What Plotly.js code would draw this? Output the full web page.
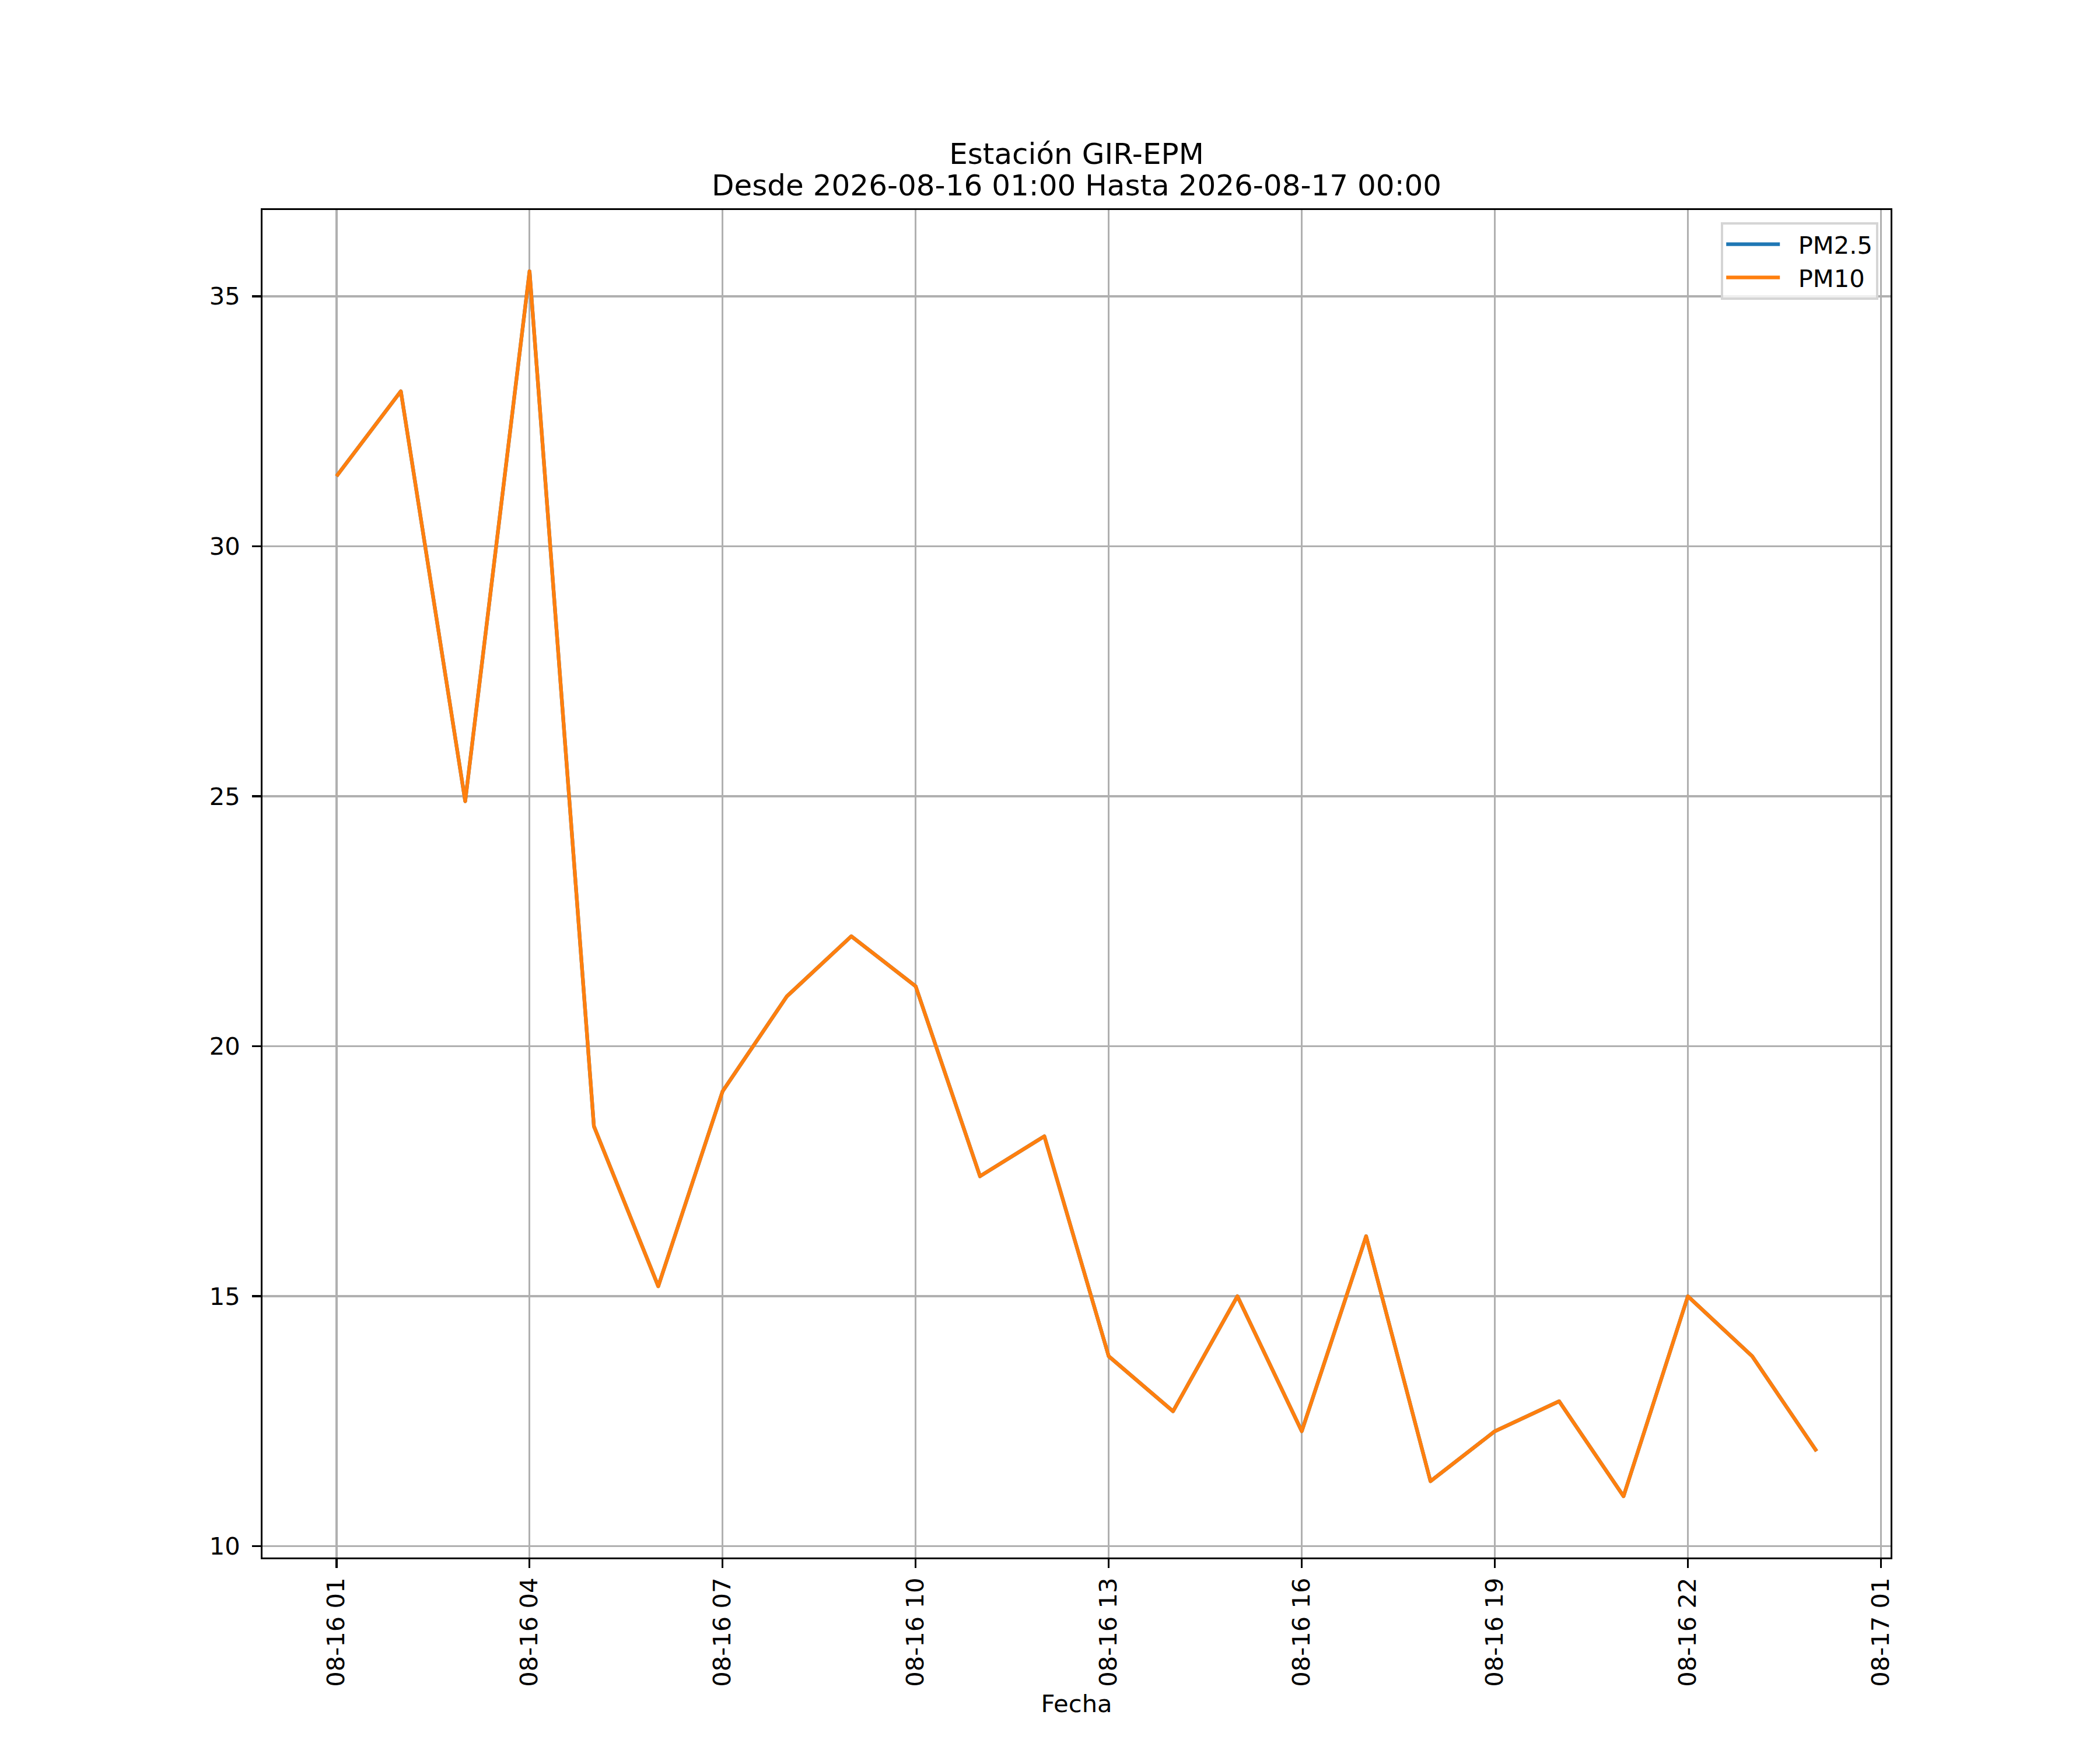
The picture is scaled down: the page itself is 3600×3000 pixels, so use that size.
<!DOCTYPE html>
<html>
<head>
<meta charset="utf-8">
<script src="https://cdn.plot.ly/plotly-3.0.1.min.js"></script>
<style>
  body { margin: 0; padding: 0; background: white; }
  .scatterlayer .js-line { stroke-linejoin: round; }
</style>
</head>
<body>
<div id="grafica" style="width:3600px;height:3000px"></div>
<script>
// horas de medición (una por hora)
const fechas = [
  '2026-08-16 01:00', '2026-08-16 02:00', '2026-08-16 03:00', '2026-08-16 04:00',
  '2026-08-16 05:00', '2026-08-16 06:00', '2026-08-16 07:00', '2026-08-16 08:00',
  '2026-08-16 09:00', '2026-08-16 10:00', '2026-08-16 11:00', '2026-08-16 12:00',
  '2026-08-16 13:00', '2026-08-16 14:00', '2026-08-16 15:00', '2026-08-16 16:00',
  '2026-08-16 17:00', '2026-08-16 18:00', '2026-08-16 19:00', '2026-08-16 20:00',
  '2026-08-16 21:00', '2026-08-16 22:00', '2026-08-16 23:00', '2026-08-17 00:00'
];

// PM2.5 queda tapada por PM10 en la imagen (mismos valores)
const pm25 = [31.4, 33.1, 24.9, 35.5, 18.4, 15.2, 19.1, 21.0, 22.2, 21.2, 17.4, 18.2,
              13.8, 12.7, 15.0, 12.3, 16.2, 11.3, 12.3, 12.9, 11.0, 15.0, 13.8, 11.9];
const pm10 = [31.4, 33.1, 24.9, 35.5, 18.4, 15.2, 19.1, 21.0, 22.2, 21.2, 17.4, 18.2,
              13.8, 12.7, 15.0, 12.3, 16.2, 11.3, 12.3, 12.9, 11.0, 15.0, 13.8, 11.9];

const estacion = 'Estación GIR-EPM';
const subtitulo = 'Desde 2026-08-16 01:00 Hasta 2026-08-17 00:00';

// 1 pt = 300/72 px
const pt = 300 / 72;
const fuente = 'DejaVu Sans, sans-serif';
// separación entre la muestra de línea y el texto de la leyenda
const sep = '\u00a0\u00a0';

let trazaPM25 = {
  x: fechas, y: pm25, name: sep + 'PM2.5', type: 'scatter', mode: 'lines',
  line: { color: '#1f77b4', width: 1.5 * pt }
};
let trazaPM10 = {
  x: fechas, y: pm10, name: sep + 'PM10', type: 'scatter', mode: 'lines',
  line: { color: '#ff7f0e', width: 1.5 * pt }
};

let ejeX = {
  type: 'date',
  range: ['2026-08-15 23:51', '2026-08-17 01:09'],
  tick0: '2026-08-16 01:00',
  dtick: 3 * 3600 * 1000,
  tickformat: '%m-%d %H',
  tickangle: -90,
  ticks: 'outside', ticklen: 3.5 * pt, tickwidth: 0.8 * pt, tickcolor: 'black',
  ticklabelstandoff: 0,
  showline: true, linecolor: 'black', linewidth: 0.8 * pt, mirror: true,
  showgrid: true, gridcolor: '#b0b0b0', gridwidth: 0.8 * pt,
  zeroline: false,
  tickfont: { family: fuente, size: 10 * pt, color: 'black' },
  title: { text: 'Fecha', standoff: 16, font: { family: fuente, size: 10 * pt, color: 'black' } }
};

let ejeY = {
  range: [9.775, 36.725],
  tick0: 0, dtick: 5,
  ticks: 'outside', ticklen: 3.5 * pt, tickwidth: 0.8 * pt, tickcolor: 'black',
  ticklabelstandoff: 12,
  showline: true, linecolor: 'black', linewidth: 0.8 * pt, mirror: true,
  showgrid: true, gridcolor: '#b0b0b0', gridwidth: 0.8 * pt,
  zeroline: false,
  tickfont: { family: fuente, size: 10 * pt, color: 'black' }
};

let layout = {
  width: 3600, height: 3000, autosize: false,
  paper_bgcolor: 'white', plot_bgcolor: 'white',
  margin: { l: 450, r: 359, t: 360, b: 330, pad: 0 },
  font: { family: fuente, size: 10 * pt, color: 'black' },
  title: {
    text: estacion,
    font: { family: fuente, size: 12 * pt, color: 'black' },
    x: 0.5, xref: 'paper', xanchor: 'center',
    y: 1 - 263 / 3000, yref: 'container', yanchor: 'middle'
  },
  annotations: [{
    text: subtitulo, showarrow: false,
    xref: 'paper', x: 0.5, xanchor: 'center',
    yref: 'paper', y: (2670 - 318) / 2310, yanchor: 'middle',
    font: { family: fuente, size: 12 * pt, color: 'black' }
  }],
  xaxis: ejeX,
  yaxis: ejeY,
  showlegend: true,
  legend: {
    x: 0.9925, xanchor: 'right', y: 0.991, yanchor: 'top',
    bgcolor: 'rgba(255,255,255,0.8)', bordercolor: '#d5d5d5', borderwidth: 1.0 * pt,
    itemwidth: 92,
    font: { family: fuente, size: 10 * pt, color: 'black' }
  }
};

Plotly.newPlot('grafica', [trazaPM25, trazaPM10], layout, { staticPlot: true, displaylogo: false });
</script>
</body>
</html>
